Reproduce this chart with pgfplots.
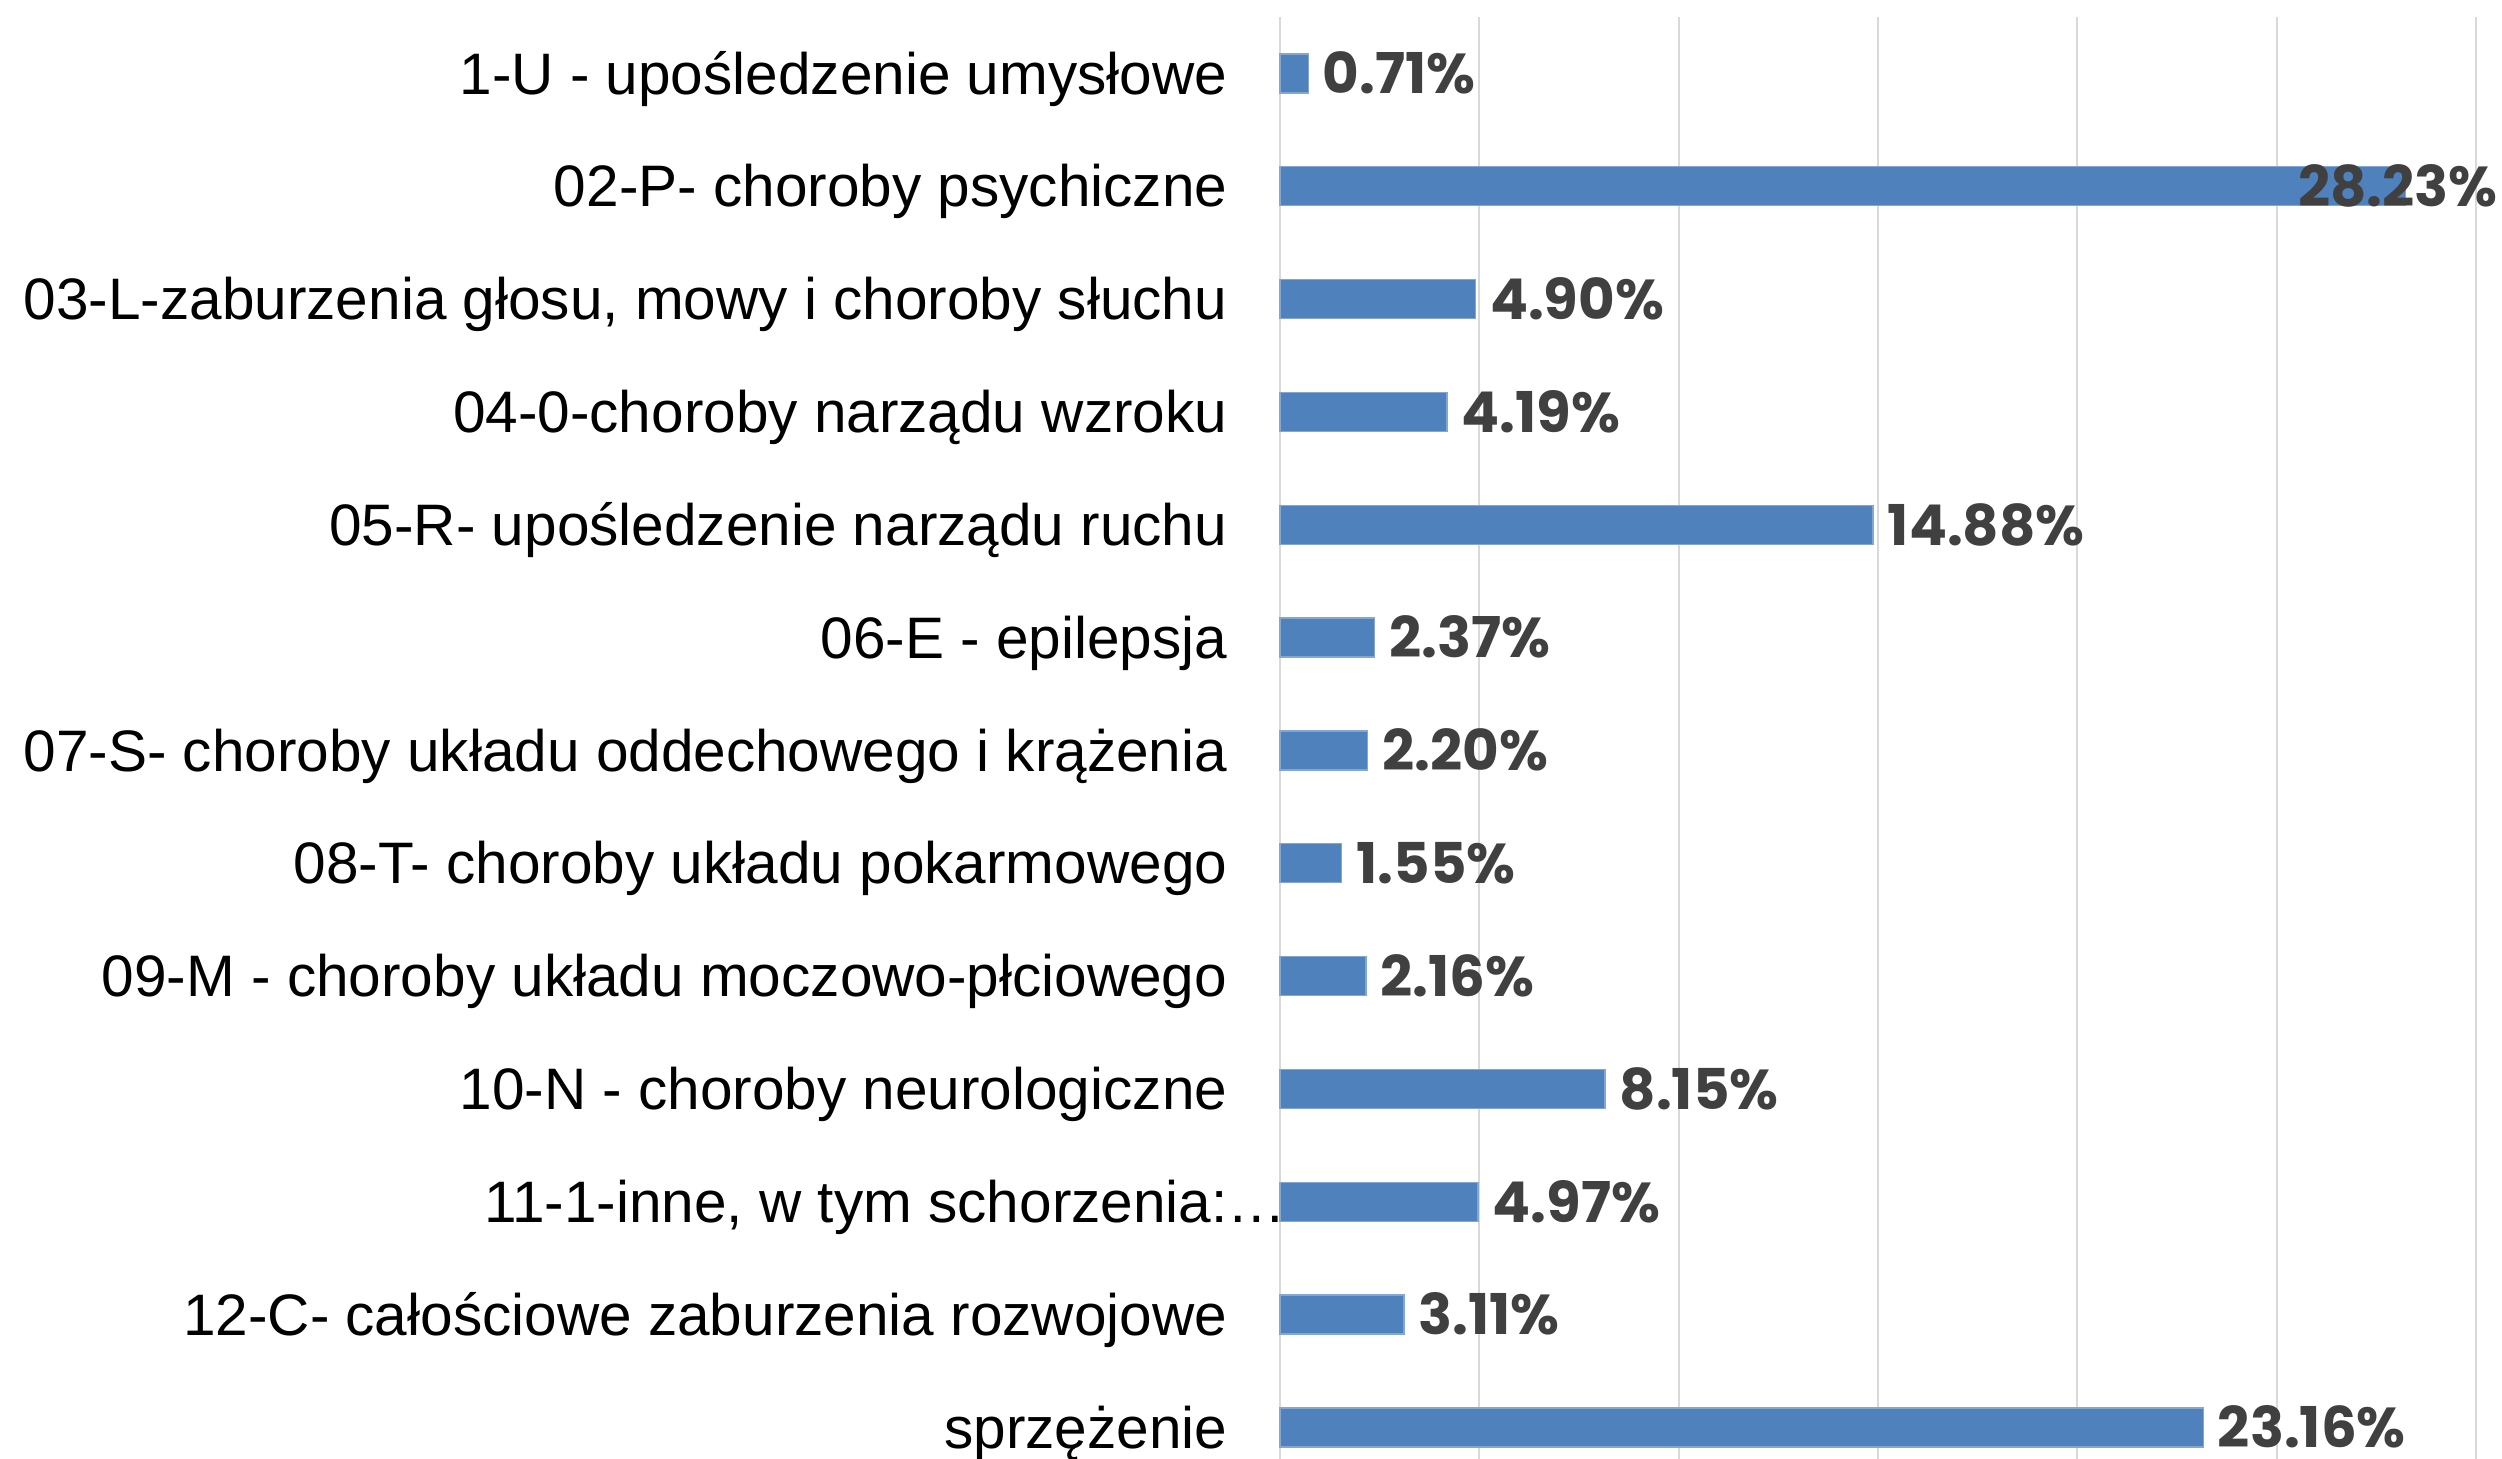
\documentclass[border=0pt]{standalone}
\usepackage{pgfplots}
\pgfplotsset{compat=1.18}
\usepackage{pgfplotstable}
\usepackage{fontspec}
\setmainfont{Liberation Sans}
\newfontfamily\valfont{Poppins}
\definecolor{barblue}{HTML}{4F81BD}
\definecolor{valgray}{HTML}{404040}
\definecolor{gridgray}{HTML}{D9D9D9}
\pgfplotstableread{
idx val dx
0 0.71 1.4
1 28.23 -10.8
2 4.90 1.4
3 4.19 1.4
4 14.88 1.4
5 2.37 1.4
6 2.20 1.4
7 1.55 1.4
8 2.16 1.4
9 8.15 1.4
10 4.97 1.4
11 3.11 1.4
12 23.16 1.4
}\datatable
\begin{document}
\begin{tikzpicture}
\path[use as bounding box] (-128mm,0) rectangle (122.2mm,145.9mm);
\begin{axis}[
  at={(0,0)}, anchor=south west,
  scale only axis, width=119.6mm, height=144.2mm,
  xbar, bar width=3.9mm,
  xmin=0, xmax=30, ymin=-0.5, ymax=12.28,
  y dir=reverse,
  axis line style={draw=none},
  xtick={0,5,...,30}, xticklabels={},
  xmajorgrids, grid style={gridgray, line width=0.6pt},
  major tick length=0pt,
  ytick={0,...,12},
  yticklabels={
    {1-U - upośledzenie umysłowe},
    {02-P- choroby psychiczne},
    {03-L-zaburzenia głosu, mowy i choroby słuchu},
    {04-0-choroby narządu wzroku},
    {05-R- upośledzenie narządu ruchu},
    {06-E - epilepsja},
    {07-S- choroby układu oddechowego i krążenia},
    {08-T- choroby układu pokarmowego},
    {09-M - choroby układu moczowo-płciowego},
    {10-N - choroby neurologiczne},
    {11-1-inne, w tym schorzenia:…\hspace*{-5.9mm}},
    {12-C- całościowe zaburzenia rozwojowe},
    {sprzężenie}},
  yticklabel style={font=\fontsize{16.65}{19}\selectfont, text=black, inner sep=0pt, anchor=base east, xshift=-5.2mm, yshift=-5.9pt},
  clip=false,
  point meta=x,
  visualization depends on={\thisrow{dx} \as \dx},
  nodes near coords={\pgfmathprintnumber[assume math mode=true,fixed,fixed zerofill,precision=2]{\pgfplotspointmeta}\%},
  nodes near coords style={anchor=base west, inner sep=0pt, xshift=\dx mm, yshift=-5.8pt, text=valgray, font=\valfont\bfseries\fontsize{16}{18}\selectfont},
]
\addplot[fill=barblue, draw=barblue!70!white, line width=0.4pt] table[x=val, y=idx] {\datatable};
\end{axis}
\end{tikzpicture}
\end{document}
